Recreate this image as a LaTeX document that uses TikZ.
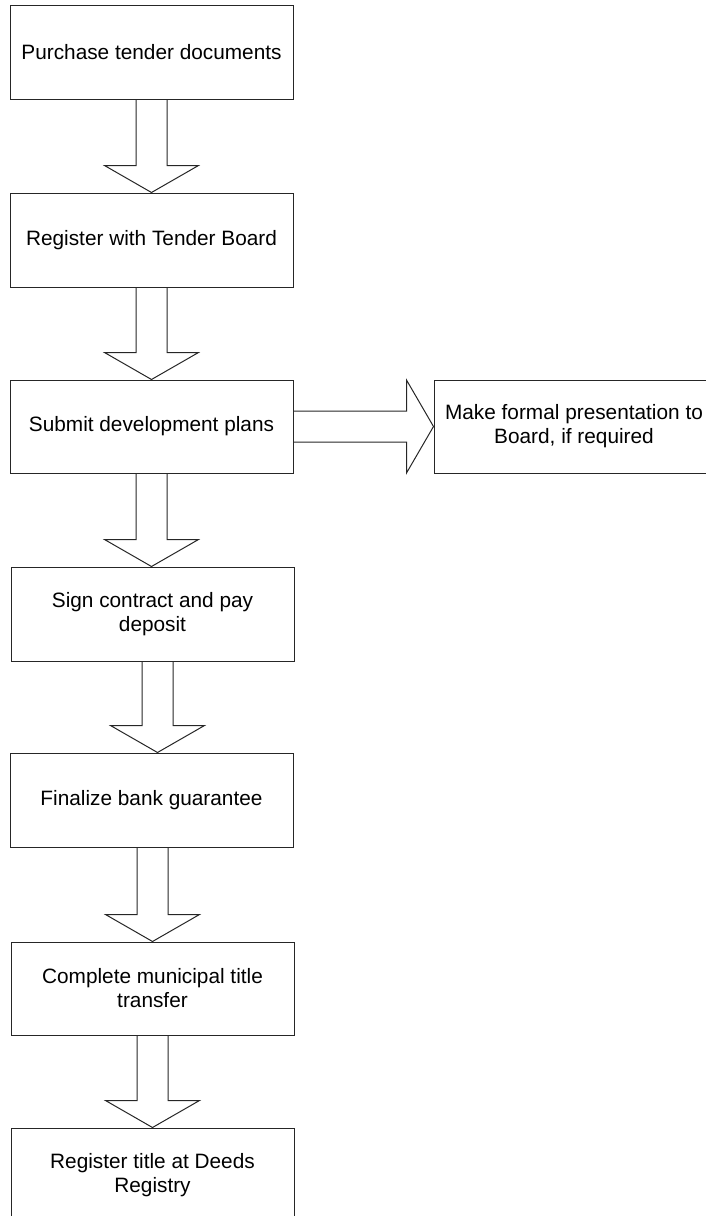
\documentclass[tikz,border=0pt]{standalone}
\usepackage{fontspec}
\setmainfont{Liberation Sans}
\usetikzlibrary{calc}
\begin{document}
\begin{tikzpicture}[x=1pt,y=-1pt,
  stepbox/.style={draw=black!85,line width=1pt,rectangle,minimum width=283pt,minimum height=94pt,
    inner sep=0pt,align=center,font=\fontsize{20.8}{24}\selectfont},
  blockarrow/.style={draw=black!85,line width=1pt,line join=miter}]
\clip (0,0) rectangle (706,1216);

% process steps
\node[stepbox] (s1) at (151.5,52) {Purchase tender documents};
\node[stepbox] (s2) at (151.5,240) {Register with Tender Board};
\node[stepbox,minimum height=93pt] (s3) at (151.5,426.5) {Submit development plans};
% side step runs past the right edge of the page
\node[stepbox,minimum width=292pt,minimum height=93pt] (side) at (580,426.5)
  {\begin{tabular}{@{}c@{\hspace{12pt}}}Make formal presentation to\\Board, if required\end{tabular}};
\node[stepbox] (s4) at (152.5,614) {Sign contract and pay\\deposit};
\node[stepbox] (s5) at (151.5,800) {Finalize bank guarantee};
\node[stepbox,minimum height=93pt] (s6) at (152.5,988.5) {Complete municipal title\\transfer};
\node[stepbox] (s7) at (152.5,1175) {Register title at Deeds\\Registry};

% hollow block arrow pointing down: [x offset]{from}{to}
\newcommand{\downblock}[3][0]{%
  \draw[blockarrow] let \p1=(#2.south), \p2=(#3.north) in
    (\x1+#1-15.5,\y1) -- (\x1+#1-15.5,\y2+27) -- (\x1+#1-47,\y2+27) -- (\x1+#1,\y2)
    -- (\x1+#1+47,\y2+27) -- (\x1+#1+15.5,\y2+27) -- (\x1+#1+15.5,\y1);}

\downblock{s1}{s2}
\downblock{s2}{s3}
\downblock{s3}{s4}
\downblock[5]{s4}{s5}
\downblock[1]{s5}{s6}
\downblock{s6}{s7}

% hollow block arrow pointing right
\draw[blockarrow] let \p1=(s3.east), \p2=(side.west) in
  (\x1,\y1+15.5) -- (\x2-27,\y1+15.5) -- (\x2-27,\y1+46.5) -- (\x2,\y1)
  -- (\x2-27,\y1-46.5) -- (\x2-27,\y1-15.5) -- (\x1,\y1-15.5);
\end{tikzpicture}
\end{document}
